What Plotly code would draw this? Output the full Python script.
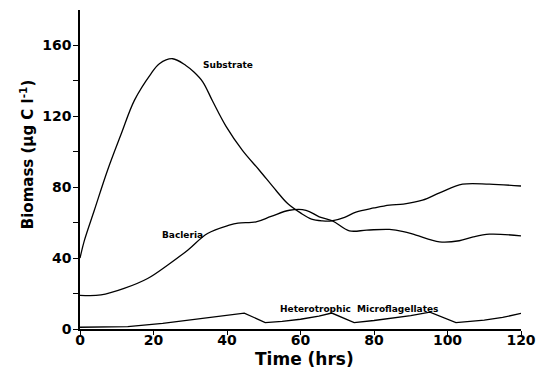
import plotly.graph_objects as go

# Time (hrs)
sub_t = [0, 1.2, 3.9, 7.5, 11.2, 14.8, 19.3, 21.6, 25.2, 28.8, 31, 33.4, 36.1, 39.7, 44.2, 48.8, 53.3, 56.5,
         60, 63, 66, 68.5, 72, 75.1, 80, 84.2, 88, 93.2, 98, 104.1, 111.4, 120]
sub_v = [40, 50, 67, 89.6, 110, 129, 144, 149.7, 152.5, 148.7, 145, 139.5, 128.5, 114.5, 100.8, 89.6, 78.3, 70.8,
         65.5, 62, 61, 61, 63, 66, 68.3, 69.9, 70.5, 72.7, 77, 81.7, 81.7, 80.7]

bac_t = [0, 5.7, 12, 18.4, 23.8, 29.3, 34.7, 40.6, 43, 47.9, 52, 57, 61.5, 65.1, 68.7, 73.3,
         78, 84.2, 88, 91.4, 97.8, 103.2, 107, 111.4, 120]
bac_v = [19, 19.2, 22.9, 28.5, 36, 44.5, 53.9, 58.6, 59.8, 60.5, 63.5, 67, 67, 63.3, 61, 55.4,
         55.8, 56.2, 55, 53, 49.2, 49.8, 52, 53.5, 52.6]

hm_t = [0, 13, 22.5, 31.6, 38, 44.7, 50.4, 55, 60, 65, 68.5, 74.6, 80, 85, 90, 95.2, 102.3, 110, 115, 120]
hm_v = [1, 1.3, 3.2, 5.6, 7.2, 9, 3.6, 4.3, 5.5, 7.3, 9, 3.6, 4.8, 6, 7.5, 9.5, 3.6, 5, 6.5, 8.8]

x_ticks = [0, 20, 40, 60, 80, 100, 120]
y_ticks = [0, 20, 40, 60, 80, 100, 120, 140, 160]
y_tick_text = ["0", "", "40", "", "80", "", "120", "", "160"]

labels = ["Substrate", "Bacleria", "Heterotrophic  Microflagellates"]
label_t = [40.4, 27.8, 76]
label_v = [148.7, 53, 11.3]

fig = go.Figure()
line = dict(color="black", width=1.3)
fig.add_trace(go.Scatter(x=sub_t, y=sub_v, mode="lines", line=dict(**line, shape="spline", smoothing=1)))
fig.add_trace(go.Scatter(x=bac_t, y=bac_v, mode="lines", line=dict(**line, shape="spline", smoothing=1)))
fig.add_trace(go.Scatter(x=hm_t, y=hm_v, mode="lines", line=dict(**line)))

for txt, tx, ty in zip(labels, label_t, label_v):
    fig.add_annotation(x=tx, y=ty, text=txt, showarrow=False,
                       font=dict(family="DejaVu Sans", size=9, color="black", weight="bold"))

fig.add_annotation(xref="paper", yref="paper", x=-0.12, y=0.545, xanchor="center", yanchor="middle",
                   text="Biomass (μg C l<sup>-1</sup>)", textangle=-90, showarrow=False,
                   font=dict(family="DejaVu Sans", size=15, color="black", weight="bold"))
fig.add_annotation(xref="paper", yref="paper", x=0.508, y=-0.094, xanchor="center", yanchor="middle",
                   text="Time (hrs)", showarrow=False,
                   font=dict(family="DejaVu Sans", size=17, color="black", weight="bold"))

fig.update_layout(
    width=539, height=369,
    margin=dict(l=80, r=18, t=10, b=40),
    paper_bgcolor="white", plot_bgcolor="white",
    showlegend=False,
    font=dict(family="DejaVu Sans", color="black"),
    xaxis=dict(range=[0, 120], tickvals=x_ticks, ticks="outside", ticklen=4, tickwidth=1.3,
               tickcolor="black", showline=True, linecolor="black", linewidth=1.5,
               showgrid=False, zeroline=False, automargin=False, ticklabelstandoff=-7,
               tickfont=dict(family="DejaVu Sans", size=14, color="black", weight="bold")),
    yaxis=dict(range=[0, 180], tickvals=y_ticks, ticktext=y_tick_text, ticks="outside", ticklen=5,
               tickwidth=1.3, tickcolor="black", showline=True, linecolor="black", linewidth=1.5,
               showgrid=False, zeroline=False, automargin=False, ticklabelstandoff=-1,
               tickfont=dict(family="DejaVu Sans", size=14, color="black", weight="bold")),
)

fig.write_html("out.html", config={"displayModeBar": False},
               post_script="document.body.style.margin='0';")
